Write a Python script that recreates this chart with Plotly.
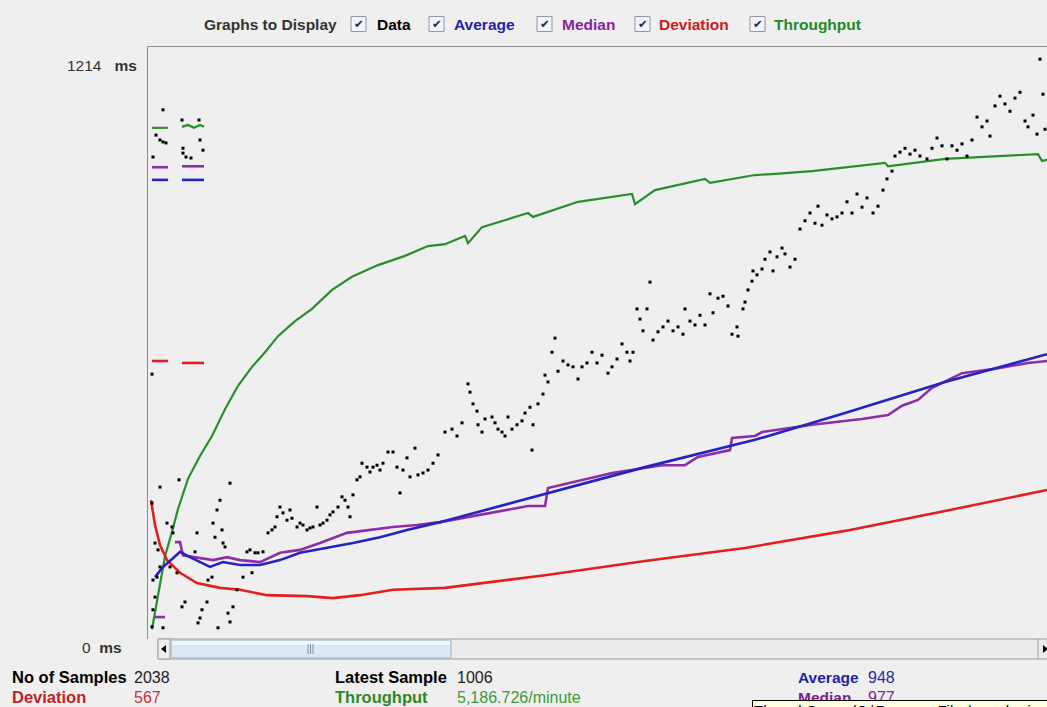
import plotly.graph_objects as go

# ---------------- data (sample index, ms) ----------------
thr_x = [4, 10, 17, 24, 30, 40, 52, 64, 77, 90, 104, 117, 130, 147, 164, 184, 204, 230, 257, 280,
         297, 317, 320, 334, 380, 385, 430, 484, 487, 507, 557, 562, 607, 624, 664, 737, 740, 797,
         890, 894, 899]
thr_y = [18, 90, 168, 218, 265, 327, 374, 415, 470, 518, 557, 587, 620, 651, 676, 715, 742, 766, 785, 805,
         809, 826, 811, 844, 873, 865, 896, 912, 891, 920, 943, 935, 951, 953, 959, 976, 969, 984,
         994, 980, 982]
thr_early_x = [4, 20, None, 34, 40, 46, 52, 56]
thr_early_y = [1048, 1048, None, 1050, 1054, 1048, 1054, 1050]

avg_x = [7, 15, 25, 32, 42, 55, 62, 75, 92, 112, 132, 152, 179, 205, 232, 259, 292, 397, 497, 607,
         697, 797, 899]
avg_y = [125, 146, 164, 177, 166, 154, 146, 156, 150, 150, 160, 175, 185, 195, 207, 222, 238, 296, 351, 407,
         462, 526, 583]
avg_early_x = [4, 20, None, 34, 56]
avg_early_y = [941, 941, None, 941, 941]

med_x = [27, 32, 35, 49, 65, 79, 92, 112, 132, 152, 172, 199, 225, 245, 269, 292, 380, 397, 400, 464,
         514, 537, 550, 580, 582, 584, 607, 614, 664, 714, 740, 754, 770, 784, 814, 847, 880, 899]
med_y = [197, 197, 170, 166, 160, 166, 160, 156, 175, 181, 195, 216, 222, 228, 232, 238, 271, 271, 308, 339,
         355, 355, 372, 386, 386, 411, 415, 423, 438, 450, 458, 477, 489, 514, 544, 553, 565, 569]
med_early_x = [7, 17, None, 4, 20, None, 34, 56]
med_early_y = [43, 43, None, 967, 967, None, 969, 969]

dev_x = [3, 7, 12, 19, 32, 49, 72, 92, 119, 159, 185, 212, 245, 297, 397, 497, 597, 697, 797, 899]
dev_y = [283, 232, 191, 160, 134, 113, 103, 99, 88, 86, 82, 88, 99, 103, 129, 158, 185, 220, 261, 304]
dev_early_x = [4, 20, None, 34, 56]
dev_early_y = [569, 569, None, 565, 565]

data_x = [15, 8, 12, 15, 18, 5, 34, 51, 35, 35, 38, 43, 52, 55, 4,
          4, 12, 7, 10, 12, 9, 5, 7, 5, 4, 15, 19, 24, 25, 22, 29, 31, 34, 37, 49, 47, 54, 52, 50,
          59, 60, 64, 65, 67, 69, 72, 74, 75, 77, 70, 82, 80, 82, 85, 89, 95, 99, 102, 104, 107, 110,
          115, 120, 124, 127, 129, 132, 135, 139, 142, 144, 149, 152, 155, 159, 162, 165, 169, 172, 175,
          179, 182, 185, 190, 194, 197, 200, 202, 205, 209, 212, 214, 219, 222, 225, 229, 232, 235, 240,
          245, 249, 252, 255, 259, 262, 267, 270, 275, 280, 285, 290,
          297, 304, 309, 314, 320, 322, 325, 329, 330, 334, 337, 344, 347, 350, 354, 357, 360, 364, 369,
          374, 377, 382, 384, 385, 390, 395, 397, 400, 404, 407, 410, 415, 420, 425, 430, 434, 439, 444,
          449, 454, 460, 464, 469, 474, 479, 482, 485, 489, 492, 495, 499, 502, 505, 510, 515, 520, 525,
          530, 535, 537, 542, 547, 552, 557, 562, 565, 570, 575, 580, 584, 589, 590, 595, 600, 605,
          597, 604, 609, 614, 617, 622, 625, 629, 634, 637, 642, 647, 652, 657, 662, 667, 670, 674, 679,
          684, 689, 694, 699, 704, 709, 714, 719, 725, 730, 735, 739, 744, 747, 752, 757, 762, 767, 772,
          779, 784, 789, 794, 799, 804, 809, 814, 819, 824, 829, 834, 839, 842, 847, 852, 857, 862, 867,
          872, 877, 880, 885, 889, 892, 895, 897]
data_y = [1085, 1033, 1023, 1019, 1017, 988, 1064, 1064, 1006, 996, 988, 986, 1023, 1002, 542,
          277, 310, 195, 181, 146, 125, 119, 84, 58, 23, 21, 236, 228, 216, 146, 134, 325, 64, 74, 216,
          177, 58, 41, 31,
          74, 119, 125, 236, 207, 263, 283, 222, 195, 187, 21, 318, 51, 33, 64, 99, 125, 177, 181, 134,
          175, 175,
          177, 216, 222, 228, 249, 269, 257, 242, 263, 246, 228, 236, 232, 222, 226, 228, 269, 232, 236,
          242, 253, 259, 269, 290, 283, 269, 249, 294, 325, 331, 359, 351, 341, 351, 355, 345, 359, 382,
          382, 351, 298, 345, 370, 331, 390, 335, 339, 345, 359, 376,
          423, 429, 415, 442, 522, 505, 481, 466, 438, 423, 450, 454, 442, 429, 423, 415, 454, 429, 438,
          446, 462, 474, 386, 438, 481, 501, 540, 526, 587, 616, 548, 569, 561, 557, 532, 557, 565, 587,
          565, 581, 544, 557, 573, 604, 587, 569, 587, 676, 655, 631, 676, 731, 612, 629, 639, 651, 631,
          639, 624, 676, 651, 643, 663, 643, 707, 668, 698, 702, 682, 624, 639, 620, 676, 715, 754,
          690, 733, 746, 758, 778, 793, 754, 783, 801, 789, 762, 778, 840, 857, 873, 852, 887, 848, 869,
          861, 865, 873, 896, 873, 912, 885, 904, 873, 887, 920, 943, 959, 990, 998, 1006, 994, 1002, 990,
          984, 1006, 1027, 1011, 984, 1011, 1002, 1015, 990, 1023, 1070, 1050, 1062, 1031, 1093, 1113, 1097, 1082, 1109,
          1121, 1062, 1050, 1074, 1035, 1189, 1117, 1045]

Y_MAX = 1214
X_MAX = 899

header_title = "Graphs to Display"
header_labels = ["Data", "Average", "Median", "Deviation", "Throughput"]
header_colors = ["#000000", "#1f1fa8", "#8a1f9c", "#cc1a1a", "#238a23"]

stat_labels = ["No of Samples", "Deviation", "Latest Sample", "Throughput", "Average", "Median"]
stat_values = ["2038", "567", "1006", "5,186.726/minute", "948", "977"]
stat_label_colors = ["#000000", "#c01f2a", "#000000", "#2a8a2a", "#1f1fa8", "#7a1f8c"]
stat_value_colors = ["#222222", "#c8323a", "#222222", "#3a9a3a", "#2a2aa0", "#7a2a8c"]

BLUE = "#2323c4"
PURPLE = "#8e2ea6"
RED = "#e21e1e"
GREEN = "#2a8f2a"

# ---------------- figure ----------------
W, H = 1047, 707
L, R, T, B = 148, 0, 47, 69
PW, PH = W - L - R, H - T - B


def px(x):
    return (x - L) / PW


def py(y):
    return (H - B - y) / PH


def gap_join(ax, ay, bx, by):
    return list(ax) + [None] + list(bx), list(ay) + [None] + list(by)


fig = go.Figure()

gx, gy = gap_join(thr_early_x, thr_early_y, thr_x, thr_y)
fig.add_trace(go.Scatter(x=gx, y=gy, mode="lines", line=dict(color=GREEN, width=2.2), name="Throughput"))
dx_, dy_ = gap_join(dev_early_x, dev_early_y, dev_x, dev_y)
fig.add_trace(go.Scatter(x=dx_, y=dy_, mode="lines", line=dict(color=RED, width=2.6), name="Deviation"))
mx, my = gap_join(med_early_x, med_early_y, med_x, med_y)
fig.add_trace(go.Scatter(x=mx, y=my, mode="lines", line=dict(color=PURPLE, width=2.6), name="Median"))
ax_, ay_ = gap_join(avg_early_x, avg_early_y, avg_x, avg_y)
fig.add_trace(go.Scatter(x=ax_, y=ay_, mode="lines", line=dict(color=BLUE, width=2.6), name="Average"))
fig.add_trace(go.Scatter(x=data_x, y=data_y, mode="markers",
                         marker=dict(color="#000000", size=3, symbol="square", line=dict(width=0)),
                         name="Data"))

shapes = []
annotations = []
FONT = "Liberation Sans, Arial, sans-serif"


def note(text, x, y, xanchor="left", yanchor="middle", **kw):
    d = dict(text=text, x=px(x), y=py(y), xref="paper", yref="paper", xanchor=xanchor, yanchor=yanchor,
             showarrow=False)
    d.update(kw)
    annotations.append(d)


# plot frame
shapes.append(dict(type="line", xref="paper", yref="paper", x0=px(147.5), x1=px(147.5), y0=py(639), y1=py(46.5),
                   line=dict(color="#8c8c8c", width=1)))
shapes.append(dict(type="line", xref="paper", yref="paper", x0=px(147.5), x1=px(1047), y0=py(46.5), y1=py(46.5),
                   line=dict(color="#8c8c8c", width=1)))

# header
note("<b>%s</b>" % header_title, 202, 24, font=dict(family=FONT, size=15.5, color="#333333"))
cb_pos = [351, 429, 537, 635, 750]
lab_pos = [375, 452, 560, 657, 772]
for lab, col, cbx, lx in zip(header_labels, header_colors, cb_pos, lab_pos):
    shapes.append(dict(type="rect", xref="paper", yref="paper", x0=px(cbx), x1=px(cbx + 15), y0=py(31.5), y1=py(16.5),
                       fillcolor="#f1f4f8", line=dict(color="#8e98a6", width=1)))
    note("<b>✔</b>", cbx + 7.5, 24.5, xanchor="center",
         font=dict(family="DejaVu Sans", size=11.5, color="#1c2a44"))
    note("<b>%s</b>" % lab, lx, 24, font=dict(family=FONT, size=15.5, color=col))

# y labels
note("%d&nbsp;&nbsp;&nbsp;<b>ms</b>" % Y_MAX, 139, 66, xanchor="right", font=dict(family=FONT, size=15.5, color="#333333"))
note("0&nbsp;&nbsp;<b>ms</b>", 124, 648, xanchor="right", font=dict(family=FONT, size=15.5, color="#333333"))

# scrollbar
shapes.append(dict(type="rect", xref="paper", yref="paper", x0=px(158), x1=px(1050), y0=py(659), y1=py(639),
                   fillcolor="#ececec", line=dict(color="#9a9fa6", width=1)))
shapes.append(dict(type="rect", xref="paper", yref="paper", x0=px(158), x1=px(170), y0=py(659), y1=py(639),
                   fillcolor="#eeeeee", line=dict(color="#9a9fa6", width=1)))
shapes.append(dict(type="path", xref="paper", yref="paper",
                   path="M %f %f L %f %f L %f %f Z" % (px(161), py(649), px(166), py(645), px(166), py(653)),
                   fillcolor="#000000", line=dict(color="#000000", width=0)))
shapes.append(dict(type="rect", xref="paper", yref="paper", x0=px(171), x1=px(451), y0=py(658), y1=py(640),
                   fillcolor="#dce8f6", line=dict(color="#9fb2ca", width=1)))
shapes.append(dict(type="rect", xref="paper", yref="paper", x0=px(172), x1=px(450), y0=py(645), y1=py(641),
                   fillcolor="#f2f7fc", line=dict(width=0)))
for gxp in (308, 310.5, 313):
    shapes.append(dict(type="line", xref="paper", yref="paper", x0=px(gxp), x1=px(gxp), y0=py(654), y1=py(644),
                       line=dict(color="#7d8da3", width=1)))
shapes.append(dict(type="line", xref="paper", yref="paper", x0=px(1038), x1=px(1038), y0=py(659), y1=py(639),
                   line=dict(color="#9a9fa6", width=1)))
shapes.append(dict(type="path", xref="paper", yref="paper",
                   path="M %f %f L %f %f L %f %f Z" % (px(1043), py(645), px(1048), py(649), px(1043), py(653)),
                   fillcolor="#000000", line=dict(color="#000000", width=0)))

# statistics
stat_pos = [(10, 677, 132), (10, 697, 132), (333, 677, 455), (333, 697, 455), (796, 677, 866), (796, 697, 866)]
stat_sizes = [16.5, 16.5, 16.5, 16.5, 15.5, 15.5]
for lab, val, lc, vc, (lx, ly, vx), fs in zip(stat_labels, stat_values, stat_label_colors, stat_value_colors,
                                              stat_pos, stat_sizes):
    note("<b>%s</b>" % lab, lx, ly, font=dict(family=FONT, size=fs, color=lc))
    note(val, vx, ly, font=dict(family=FONT, size=16, color=vc))

# tooltip covering the bottom-right corner
note("Thread Group (C:\\Program Files\\apache-jmeter)", 752, 700, yanchor="top", align="left", valign="top",
     width=400, height=30, bgcolor="#ffffe1", bordercolor="#000000", borderwidth=1, borderpad=1,
     font=dict(family=FONT, size=15, color="#000000"))

fig.update_layout(
    width=W, height=H,
    margin=dict(l=L, r=R, t=T, b=B, pad=0),
    paper_bgcolor="#efefef", plot_bgcolor="#efefef",
    showlegend=False, hovermode=False,
    xaxis=dict(range=[0, X_MAX], visible=False, fixedrange=True),
    yaxis=dict(range=[0, Y_MAX], visible=False, fixedrange=True),
    shapes=shapes, annotations=annotations,
)

fig.write_html("out.html", config={"displayModeBar": False, "staticPlot": True},
               post_script="document.body.style.margin='0';document.body.style.overflow='hidden';")
